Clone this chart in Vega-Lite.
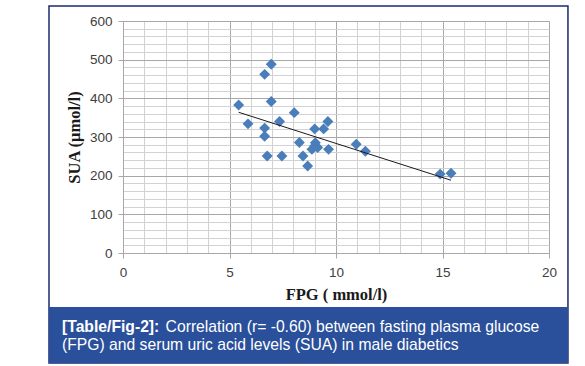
{
  "$schema": "https://vega.github.io/schema/vega-lite/v6.json",
  "autosize": {"type": "none"},
  "width": 426,
  "height": 232,
  "padding": {"left": 123, "top": 21, "right": 36, "bottom": 113},
  "background": "white",
  "config": {"view": {"stroke": null}},
  "resolve": {"axis": {"x": "independent", "y": "independent"}},
  "layer": [
    {
      "data": {"name": "pts"},
      "mark": {"type": "point", "shape": "diamond", "filled": true, "size": 120, "color": "#4a7ebb", "opacity": 1},
      "encoding": {
        "x": {
          "field": "FPG", "type": "quantitative",
          "scale": {"domain": [0, 20], "nice": false, "zero": false},
          "axis": {
            "orient": "bottom",
            "title": "FPG ( mmol/l)",
            "values": [0,1,2,3,4,5,6,7,8,9,10,11,12,13,14,15,16,17,18,19,20],
            "grid": true,
            "gridColor": {"condition": {"test": "datum.value % 5 === 0", "value": "#a8a8a8"}, "value": "#d2d2d2"},
            "gridWidth": 1,
            "labelExpr": "datum.value % 5 === 0 ? datum.label : ''",
            "labelOverlap": false,
            "labelFlush": false,
            "tickOpacity": {"condition": {"test": "datum.value % 5 === 0", "value": 1}, "value": 0},
            "tickSize": 5,
            "tickColor": "#a8a8a8",
            "domainColor": "#a8a8a8",
            "labelFont": "Liberation Sans",
            "labelFontSize": 13.5,
            "labelColor": "#404040",
            "labelPadding": 7,
            "titleFont": "Liberation Serif",
            "titleFontSize": 16.5,
            "titleFontWeight": "bold",
            "titleColor": "#1a1a1a",
            "titlePadding": 8
          }
        },
        "y": {
          "field": "SUA", "type": "quantitative",
          "scale": {"domain": [0, 600], "nice": false, "zero": false},
          "axis": {
            "orient": "left",
            "title": "SUA (μmol/l)",
            "values": [0,20,40,60,80,100,120,140,160,180,200,220,240,260,280,300,320,340,360,380,400,420,440,460,480,500,520,540,560,580,600],
            "grid": true,
            "gridColor": {"condition": {"test": "datum.value % 100 === 0", "value": "#a8a8a8"}, "value": "#d2d2d2"},
            "gridWidth": 1,
            "labelExpr": "datum.value % 100 === 0 ? datum.label : ''",
            "labelOverlap": false,
            "labelFlush": false,
            "tickOpacity": {"condition": {"test": "datum.value % 100 === 0", "value": 1}, "value": 0},
            "tickSize": 5,
            "tickColor": "#a8a8a8",
            "domainColor": "#a8a8a8",
            "labelFont": "Liberation Sans",
            "labelFontSize": 13.5,
            "labelColor": "#404040",
            "labelPadding": 6,
            "titleFont": "Liberation Serif",
            "titleFontSize": 16.5,
            "titleFontWeight": "bold",
            "titleColor": "#1a1a1a",
            "titlePadding": 7
          }
        }
      }
    },
    {
      "data": {"name": "pts"},
      "transform": [{"regression": "SUA", "on": "FPG"}],
      "mark": {"type": "line", "color": "#1a1a1a", "strokeWidth": 1},
      "encoding": {
        "x": {"field": "FPG", "type": "quantitative", "scale": {"domain": [0, 20], "nice": false, "zero": false}, "axis": null},
        "y": {"field": "SUA", "type": "quantitative", "scale": {"domain": [0, 600], "nice": false, "zero": false}, "axis": null}
      }
    },
    {
      "data": {"values": [{"part": "frame"}]},
      "mark": {"type": "rect", "fillOpacity": 0, "stroke": "#1c2a6e", "strokeWidth": 1.5},
      "encoding": {
        "x": {"datum": -3.474, "type": "quantitative", "scale": {"domain": [0, 20], "nice": false, "zero": false}, "axis": null},
        "x2": {"datum": 20.89},
        "y": {"datum": 638.8, "type": "quantitative", "scale": {"domain": [0, 600], "nice": false, "zero": false}, "axis": null},
        "y2": {"datum": -284.5}
      }
    },
    {
      "data": {"values": [{"part": "caption band"}]},
      "mark": {"type": "rect", "fill": "#2a4f9b"},
      "encoding": {
        "x": {"datum": -3.474, "type": "quantitative", "scale": {"domain": [0, 20], "nice": false, "zero": false}, "axis": null},
        "x2": {"datum": 20.89},
        "y": {"datum": -139.7, "type": "quantitative", "scale": {"domain": [0, 600], "nice": false, "zero": false}, "axis": null},
        "y2": {"datum": -284.5}
      }
    },
    {
      "data": {"values": [{"caption": "[Table/Fig-2]:"}]},
      "mark": {"type": "text", "align": "left", "baseline": "alphabetic", "font": "Liberation Sans", "fontSize": 15.7, "fontWeight": "bold", "color": "white"},
      "encoding": {
        "x": {"datum": -2.864, "type": "quantitative", "scale": {"domain": [0, 20], "nice": false, "zero": false}, "axis": null},
        "y": {"datum": -204.3, "type": "quantitative", "scale": {"domain": [0, 600], "nice": false, "zero": false}, "axis": null},
        "text": {"field": "caption"}
      }
    },
    {
      "data": {"values": [{"caption": "Correlation (r= -0.60) between fasting plasma glucose"}]},
      "mark": {"type": "text", "align": "left", "baseline": "alphabetic", "font": "Liberation Sans", "fontSize": 15.7, "color": "white"},
      "encoding": {
        "x": {"datum": 2.0, "type": "quantitative", "scale": {"domain": [0, 20], "nice": false, "zero": false}, "axis": null},
        "y": {"datum": -204.3, "type": "quantitative", "scale": {"domain": [0, 600], "nice": false, "zero": false}, "axis": null},
        "text": {"field": "caption"}
      }
    },
    {
      "data": {"values": [{"caption": "(FPG) and serum uric acid levels (SUA) in male diabetics"}]},
      "mark": {"type": "text", "align": "left", "baseline": "alphabetic", "font": "Liberation Sans", "fontSize": 15.7, "color": "white"},
      "encoding": {
        "x": {"datum": -2.864, "type": "quantitative", "scale": {"domain": [0, 20], "nice": false, "zero": false}, "axis": null},
        "y": {"datum": -250.9, "type": "quantitative", "scale": {"domain": [0, 600], "nice": false, "zero": false}, "axis": null},
        "text": {"field": "caption"}
      }
    }
  ],
  "datasets": {
    "pts": [
      {"FPG": 5.43, "SUA": 383},
      {"FPG": 5.87, "SUA": 334},
      {"FPG": 6.65, "SUA": 462},
      {"FPG": 6.96, "SUA": 488},
      {"FPG": 6.96, "SUA": 392},
      {"FPG": 6.65, "SUA": 323},
      {"FPG": 6.65, "SUA": 302},
      {"FPG": 6.77, "SUA": 251},
      {"FPG": 7.35, "SUA": 340},
      {"FPG": 7.46, "SUA": 251},
      {"FPG": 8.04, "SUA": 363},
      {"FPG": 8.28, "SUA": 286},
      {"FPG": 8.45, "SUA": 251},
      {"FPG": 8.67, "SUA": 225},
      {"FPG": 9.0, "SUA": 321},
      {"FPG": 9.42, "SUA": 321},
      {"FPG": 9.62, "SUA": 340},
      {"FPG": 9.65, "SUA": 268},
      {"FPG": 8.87, "SUA": 268},
      {"FPG": 9.03, "SUA": 285},
      {"FPG": 9.14, "SUA": 273},
      {"FPG": 9.0, "SUA": 277},
      {"FPG": 10.95, "SUA": 281},
      {"FPG": 11.38, "SUA": 263},
      {"FPG": 14.89, "SUA": 204},
      {"FPG": 15.4, "SUA": 206}
    ]
  }
}
